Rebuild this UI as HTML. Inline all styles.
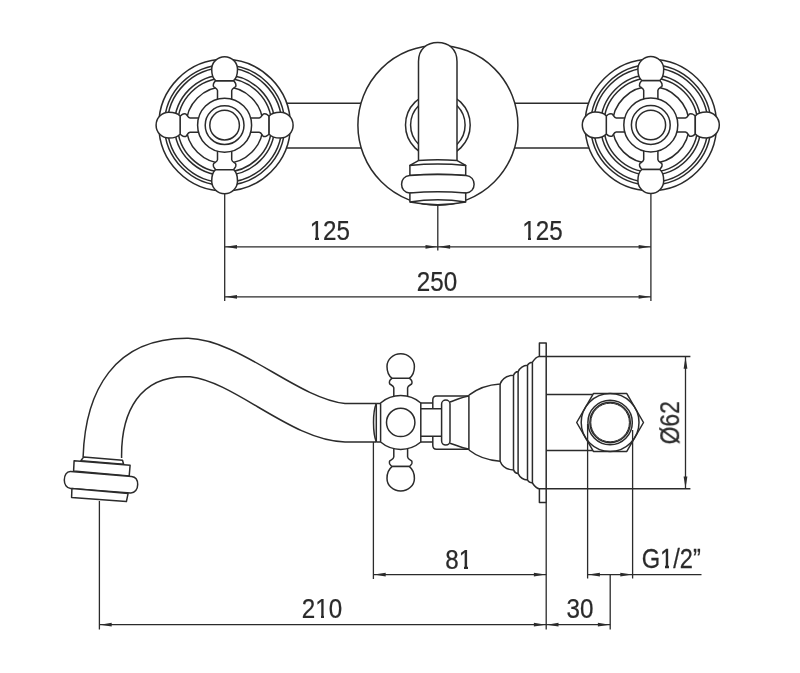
<!DOCTYPE html>
<html><head><meta charset="utf-8"><style>
html,body{margin:0;padding:0;background:#fff;}
svg{display:block;}
</style></head><body>
<svg width="800" height="673" viewBox="0 0 800 673">
<rect width="800" height="673" fill="#fff"/>
<g fill="none" stroke="#2b2b2b" stroke-width="1.5" stroke-linejoin="round">
<line x1="224.5" y1="103.3" x2="650.8" y2="103.3"/>
<line x1="224.5" y1="148" x2="650.8" y2="148"/>
<circle cx="224.6" cy="125.15" r="66" fill="#fff" stroke="none"/>
<circle cx="224.6" cy="125.15" r="65.8"/>
<circle cx="224.6" cy="125.15" r="60.2"/>
<circle cx="224.6" cy="125.15" r="57.3"/>
<circle cx="224.6" cy="125.15" r="50.2"/>
<circle cx="224.6" cy="125.15" r="47"/>
<circle cx="224.6" cy="125.15" r="38.4"/>
<g transform="translate(224.6,125.15) rotate(0)"><path d="M20,-7.1 L34.6,-7.1 C36.4,-7.2 37.3,-9.3 38.4,-10.9 C39,-11.4 40.2,-11.4 41.4,-11.1 C42.6,-10.6 43.5,-9.8 44.5,-9 L44.5,9 C43.5,9.8 42.6,10.6 41.4,11.1 C40.2,11.4 39,11.4 38.4,10.9 C37.3,9.3 36.4,7.2 34.6,7.1 L20,7.1 Z" fill="#fff"/><path d="M44.5,-9 C46.3,-11.3 49.87,-12.9 55.8,-12.9 C62.81,-12.9 68.5,-7.12 68.5,0 L68.5,0 C68.5,7.12 62.81,12.9 55.8,12.9 C49.87,12.9 46.3,11.3 44.5,9 Z" fill="#fff"/></g>
<g transform="translate(224.6,125.15) rotate(90)"><path d="M20,-7.1 L34.6,-7.1 C36.4,-7.2 37.3,-9.3 38.4,-10.9 C39,-11.4 40.2,-11.4 41.4,-11.1 C42.6,-10.6 43.5,-9.8 44.5,-9 L44.5,9 C43.5,9.8 42.6,10.6 41.4,11.1 C40.2,11.4 39,11.4 38.4,10.9 C37.3,9.3 36.4,7.2 34.6,7.1 L20,7.1 Z" fill="#fff"/><path d="M44.5,-9 C46.3,-11.3 49.87,-12.9 55.8,-12.9 C62.81,-12.9 68.5,-7.12 68.5,0 L68.5,0 C68.5,7.12 62.81,12.9 55.8,12.9 C49.87,12.9 46.3,11.3 44.5,9 Z" fill="#fff"/></g>
<g transform="translate(224.6,125.15) rotate(180)"><path d="M20,-7.1 L34.6,-7.1 C36.4,-7.2 37.3,-9.3 38.4,-10.9 C39,-11.4 40.2,-11.4 41.4,-11.1 C42.6,-10.6 43.5,-9.8 44.5,-9 L44.5,9 C43.5,9.8 42.6,10.6 41.4,11.1 C40.2,11.4 39,11.4 38.4,10.9 C37.3,9.3 36.4,7.2 34.6,7.1 L20,7.1 Z" fill="#fff"/><path d="M44.5,-9 C46.3,-11.3 49.87,-12.9 55.8,-12.9 C62.81,-12.9 68.5,-7.12 68.5,0 L68.5,0 C68.5,7.12 62.81,12.9 55.8,12.9 C49.87,12.9 46.3,11.3 44.5,9 Z" fill="#fff"/></g>
<g transform="translate(224.6,125.15) rotate(270)"><path d="M20,-7.1 L34.6,-7.1 C36.4,-7.2 37.3,-9.3 38.4,-10.9 C39,-11.4 40.2,-11.4 41.4,-11.1 C42.6,-10.6 43.5,-9.8 44.5,-9 L44.5,9 C43.5,9.8 42.6,10.6 41.4,11.1 C40.2,11.4 39,11.4 38.4,10.9 C37.3,9.3 36.4,7.2 34.6,7.1 L20,7.1 Z" fill="#fff"/><path d="M44.5,-9 C46.3,-11.3 49.87,-12.9 55.8,-12.9 C62.81,-12.9 68.5,-7.12 68.5,0 L68.5,0 C68.5,7.12 62.81,12.9 55.8,12.9 C49.87,12.9 46.3,11.3 44.5,9 Z" fill="#fff"/></g>
<circle cx="224.6" cy="125.15" r="27" fill="#fff"/>
<circle cx="224.6" cy="125.15" r="19.4"/>
<circle cx="224.6" cy="125.15" r="14.8"/>
<circle cx="650.8" cy="125" r="66" fill="#fff" stroke="none"/>
<circle cx="650.8" cy="125" r="65.8"/>
<circle cx="650.8" cy="125" r="60.2"/>
<circle cx="650.8" cy="125" r="57.3"/>
<circle cx="650.8" cy="125" r="50.2"/>
<circle cx="650.8" cy="125" r="47"/>
<circle cx="650.8" cy="125" r="38.4"/>
<g transform="translate(650.8,125) rotate(0)"><path d="M20,-7.1 L34.6,-7.1 C36.4,-7.2 37.3,-9.3 38.4,-10.9 C39,-11.4 40.2,-11.4 41.4,-11.1 C42.6,-10.6 43.5,-9.8 44.5,-9 L44.5,9 C43.5,9.8 42.6,10.6 41.4,11.1 C40.2,11.4 39,11.4 38.4,10.9 C37.3,9.3 36.4,7.2 34.6,7.1 L20,7.1 Z" fill="#fff"/><path d="M44.5,-9 C46.3,-11.3 49.87,-12.9 55.8,-12.9 C62.81,-12.9 68.5,-7.12 68.5,0 L68.5,0 C68.5,7.12 62.81,12.9 55.8,12.9 C49.87,12.9 46.3,11.3 44.5,9 Z" fill="#fff"/></g>
<g transform="translate(650.8,125) rotate(90)"><path d="M20,-7.1 L34.6,-7.1 C36.4,-7.2 37.3,-9.3 38.4,-10.9 C39,-11.4 40.2,-11.4 41.4,-11.1 C42.6,-10.6 43.5,-9.8 44.5,-9 L44.5,9 C43.5,9.8 42.6,10.6 41.4,11.1 C40.2,11.4 39,11.4 38.4,10.9 C37.3,9.3 36.4,7.2 34.6,7.1 L20,7.1 Z" fill="#fff"/><path d="M44.5,-9 C46.3,-11.3 49.87,-12.9 55.8,-12.9 C62.81,-12.9 68.5,-7.12 68.5,0 L68.5,0 C68.5,7.12 62.81,12.9 55.8,12.9 C49.87,12.9 46.3,11.3 44.5,9 Z" fill="#fff"/></g>
<g transform="translate(650.8,125) rotate(180)"><path d="M20,-7.1 L34.6,-7.1 C36.4,-7.2 37.3,-9.3 38.4,-10.9 C39,-11.4 40.2,-11.4 41.4,-11.1 C42.6,-10.6 43.5,-9.8 44.5,-9 L44.5,9 C43.5,9.8 42.6,10.6 41.4,11.1 C40.2,11.4 39,11.4 38.4,10.9 C37.3,9.3 36.4,7.2 34.6,7.1 L20,7.1 Z" fill="#fff"/><path d="M44.5,-9 C46.3,-11.3 49.87,-12.9 55.8,-12.9 C62.81,-12.9 68.5,-7.12 68.5,0 L68.5,0 C68.5,7.12 62.81,12.9 55.8,12.9 C49.87,12.9 46.3,11.3 44.5,9 Z" fill="#fff"/></g>
<g transform="translate(650.8,125) rotate(270)"><path d="M20,-7.1 L34.6,-7.1 C36.4,-7.2 37.3,-9.3 38.4,-10.9 C39,-11.4 40.2,-11.4 41.4,-11.1 C42.6,-10.6 43.5,-9.8 44.5,-9 L44.5,9 C43.5,9.8 42.6,10.6 41.4,11.1 C40.2,11.4 39,11.4 38.4,10.9 C37.3,9.3 36.4,7.2 34.6,7.1 L20,7.1 Z" fill="#fff"/><path d="M44.5,-9 C46.3,-11.3 49.87,-12.9 55.8,-12.9 C62.81,-12.9 68.5,-7.12 68.5,0 L68.5,0 C68.5,7.12 62.81,12.9 55.8,12.9 C49.87,12.9 46.3,11.3 44.5,9 Z" fill="#fff"/></g>
<circle cx="650.8" cy="125" r="27" fill="#fff"/>
<circle cx="650.8" cy="125" r="19.4"/>
<circle cx="650.8" cy="125" r="14.8"/>
<circle cx="437.9" cy="125.2" r="80" fill="#fff"/>
<circle cx="437.85" cy="125" r="32.35"/>
<circle cx="437.85" cy="125" r="27.25"/>
<path d="M418.5,163 L418.5,61.5 C418.5,49 427,42.5 437.75,42.5 C448.5,42.5 457,49 457,61.5 L457,163 Z" fill="#fff"/>
<path d="M418.4,160.6 Q437.8,159 457.2,160.6 L465.7,165.4 L409.9,165.4 Z" fill="#fff"/>
<path d="M409.9,165.4 Q437.8,162.8 465.7,165.4 L465.7,175.5 Q437.8,173.2 409.9,175.5 Z" fill="#fff"/>
<path d="M409.9,175.5 Q437.8,173.6 465.7,175.5 L466,175.5 C476.8,176 476.8,192.5 466,193 L409.6,193 C398.9,192.5 398.9,176 409.6,175.5 Z" fill="#fff"/>
<path d="M409.9,193 Q437.8,190.6 465.7,193 L465.7,202 Q437.8,207.4 409.9,202 Z" fill="#fff"/>
<path d="M409.9,202 Q437.8,197.4 465.7,202" fill="none"/>
<path d="M83.1,456.9 C85.3,390.9 114.1,337.6 188.2,338.3 C240.6,339.9 296.5,397.9 345,403.5 L376.3,403.5" fill="none"/>
<path d="M121.6,457.9 C120.9,413 138.9,374 190.2,376.8 C235.2,381.9 292.5,441.2 345,441.9 L376.3,441.9" fill="none"/>
<path d="M83.7,456.9 L122.5,460.2 L123.6,464.2 L80.9,460.8 Z" fill="#fff"/>
<path d="M74.1,460.8 L130.1,465.3 L129.2,476 L73.6,470.9 Z" fill="#fff"/>
<path d="M70.7,471.5 L131.5,476.6 C135.8,477 137.7,480.3 137.7,484.6 C137.7,489.2 135,493.2 130.4,492.9 L70.7,488.4 C66.6,488 64.3,484.4 64.3,480 C64.3,475.3 66.6,471.2 70.7,471.5 Z" fill="#fff"/>
<path d="M71.9,488.4 L128.1,493.4 L126.4,501.6 L71.6,497.4 Z" fill="#fff"/>
<path d="M376.3,403.5 C372.6,412 372.6,433 376.3,441.9" fill="none"/>
<path d="M376.3,403.5 L376.3,441.9 M376.3,403.5 L380.5,403.5 M376.3,441.9 L380.5,441.9" fill="none"/>
<g transform="translate(400.7,422.4) rotate(-90)"><path d="M20,-6.9 L34.6,-6.9 C36.4,-7 37.3,-9.1 38.4,-10.9 C39,-11.4 40.2,-11.4 41.4,-11.1 C42.6,-10.6 43.5,-9.5 44.2,-8.7 L44.2,8.7 C43.5,9.5 42.6,10.6 41.4,11.1 C40.2,11.4 39,11.4 38.4,10.9 C37.3,9.1 36.4,7 34.6,6.9 L20,6.9 Z" fill="#fff"/><path d="M44.2,-8.7 C46,-11 49.81,-13.7 56,-13.7 C62.96,-13.7 68.6,-7.57 68.6,0 L68.6,0 C68.6,7.57 62.96,13.7 56,13.7 C49.81,13.7 46,11 44.2,8.7 Z" fill="#fff"/></g>
<g transform="translate(400.7,422.4) rotate(90)"><path d="M20,-6.9 L34.6,-6.9 C36.4,-7 37.3,-9.1 38.4,-10.9 C39,-11.4 40.2,-11.4 41.4,-11.1 C42.6,-10.6 43.5,-9.5 44.2,-8.7 L44.2,8.7 C43.5,9.5 42.6,10.6 41.4,11.1 C40.2,11.4 39,11.4 38.4,10.9 C37.3,9.1 36.4,7 34.6,6.9 L20,6.9 Z" fill="#fff"/><path d="M44.2,-8.7 C46,-11 49.81,-13.7 56,-13.7 C62.96,-13.7 68.6,-7.57 68.6,0 L68.6,0 C68.6,7.57 62.96,13.7 56,13.7 C49.81,13.7 46,11 44.2,8.7 Z" fill="#fff"/></g>
<path d="M420.6,403.1 L433,403.1 M420.6,441.9 L433,441.9 M420.6,408.8 L441.6,408.8 M420.6,436.2 L441.6,436.2" fill="none"/>
<path d="M380.6,403 A31,31 0 0 1 420.8,403 L420.8,442 A31,31 0 0 1 380.6,442 Z" fill="#fff"/>
<circle cx="400.7" cy="422.4" r="14.2"/>
<path d="M469,396 L436.5,396 Q432.8,396 432.8,400 L432.8,408.8 M432.8,436.2 L432.8,445.2 Q432.8,449.2 436.5,449.2 L469,449.2" fill="none"/>
<rect x="441.6" y="400.1" width="8.4" height="45" rx="4.2" ry="4" fill="#fff"/>
<path d="M450,402 C456,400 462,397 469,396 M450,443.2 C456,445.2 462,448 469,449.2" fill="none"/>
<path d="M468.9,395.2 C476.7,389.04 487.62,384.78 500.1,384 C502.11,378.78 506.13,375.56 513.5,375.3 C514.42,373.08 515.8,371.79 518.1,371.6 C519.98,367.76 522.8,365.52 527.5,365.2 C528.48,363.4 529.95,362.35 532.4,362.2 C534.5,359.01 536.6,356.4 539.4,356.4 L546.2,356.4" fill="none"/>
<path d="M468.9 450  C476.7 456.16 487.62 460.42 500.1 461.2  C502.11 466.42 506.13 469.64 513.5 469.9  C514.42 472.12 515.8 473.41 518.1 473.6  C519.98 477.44 522.8 479.68 527.5 480  C528.48 481.8 529.95 482.85 532.4 483  C534.5 486.19 536.6 488.8 539.4 488.8  L546.2 488.8" fill="none"/>
<line x1="468.9" y1="395.2" x2="468.9" y2="450"/>
<line x1="500.1" y1="384" x2="500.1" y2="461.2"/>
<line x1="513.5" y1="375.3" x2="513.5" y2="469.9"/>
<line x1="518.1" y1="371.6" x2="518.1" y2="473.6"/>
<line x1="527.5" y1="365.2" x2="527.5" y2="480"/>
<line x1="532.4" y1="362.2" x2="532.4" y2="483"/>
<path d="M539.4,356.4 L539.4,342.9 L546.2,342.9 L546.2,502.5 L539.4,502.5 L539.4,488.8" fill="none"/>
<path d="M546.2,356.4 L690.4,356.4 M546.2,488.8 L690.4,488.8" fill="none"/>
<path d="M546.2,394.5 L592.8,394.5 M546.2,450.5 L592.8,450.5" fill="none"/>
<polygon points="643.5,422.5 626.8,451.43 593.4,451.43 576.7,422.5 593.4,393.57 626.8,393.57" fill="#fff"/>
<circle cx="610.1" cy="422.5" r="28.9"/>
<circle cx="610.1" cy="422.5" r="22.2"/>
<circle cx="610.1" cy="422.5" r="20.2"/>
<circle cx="610.1" cy="422.5" r="19.3" stroke-width="1"/>
<g stroke-width="1.3"><path d="M224.7,194 L224.7,301 M437.8,206 L437.8,250.5 M650.9,194 L650.9,301" fill="none"/>
<path d="M224.7,246.8 L650.9,246.8 M224.7,296.8 L650.9,296.8" fill="none"/>
<path d="M225.3,246.8 L237,244.9 L237,248.7 Z" fill="#2b2b2b" stroke="none"/>
<path d="M437.2,246.8 L425.5,248.7 L425.5,244.9 Z" fill="#2b2b2b" stroke="none"/>
<path d="M438.4,246.8 L450.1,244.9 L450.1,248.7 Z" fill="#2b2b2b" stroke="none"/>
<path d="M650.3,246.8 L638.6,248.7 L638.6,244.9 Z" fill="#2b2b2b" stroke="none"/>
<path d="M225.3,296.8 L237,294.9 L237,298.7 Z" fill="#2b2b2b" stroke="none"/>
<path d="M650.3,296.8 L638.6,298.7 L638.6,294.9 Z" fill="#2b2b2b" stroke="none"/>
<path d="M373.4,441.9 L373.4,579 M99.4,501 L99.4,629.5 M546.2,502.5 L546.2,629.5 M587.6,424 L587.6,578.5 M632.6,430 L632.6,578.5 M610.2,575 L610.2,629.5 M685.5,356.4 L685.5,488.8" fill="none"/>
<path d="M373.4,574.6 L546.2,574.6 M587.6,574.6 L701.5,574.6 M99.4,624.7 L610.2,624.7" fill="none"/>
<path d="M374,574.6 L385.7,572.7 L385.7,576.5 Z" fill="#2b2b2b" stroke="none"/>
<path d="M545.6,574.6 L533.9,576.5 L533.9,572.7 Z" fill="#2b2b2b" stroke="none"/>
<path d="M588.2,574.6 L599.9,572.7 L599.9,576.5 Z" fill="#2b2b2b" stroke="none"/>
<path d="M632,574.6 L620.3,576.5 L620.3,572.7 Z" fill="#2b2b2b" stroke="none"/>
<path d="M100,624.7 L111.7,622.8 L111.7,626.6 Z" fill="#2b2b2b" stroke="none"/>
<path d="M545.6,624.7 L533.9,626.6 L533.9,622.8 Z" fill="#2b2b2b" stroke="none"/>
<path d="M546.8,624.7 L558.5,622.8 L558.5,626.6 Z" fill="#2b2b2b" stroke="none"/>
<path d="M609.6,624.7 L597.9,626.6 L597.9,622.8 Z" fill="#2b2b2b" stroke="none"/>
<path d="M685.5,357 L687.4,368.7 L683.6,368.7 Z" fill="#2b2b2b" stroke="none"/>
<path d="M685.5,488.2 L683.6,476.5 L687.4,476.5 Z" fill="#2b2b2b" stroke="none"/></g>
</g>
<g fill="#2a2a2a" font-family="Liberation Sans, sans-serif" stroke="#2a2a2a" stroke-width="0.25" style="will-change:transform">
<text transform="translate(329.8,239.7) scale(0.88,1)" text-anchor="middle" font-size="27.5">125</text>
<text transform="translate(542.5,240.4) scale(0.88,1)" text-anchor="middle" font-size="27.5">125</text>
<text transform="translate(437,290.5) scale(0.88,1)" text-anchor="middle" font-size="27.5">250</text>
<text transform="translate(458.8,568.75) scale(0.88,1)" text-anchor="middle" font-size="27.5">81</text>
<text transform="translate(322,617.8) scale(0.88,1)" text-anchor="middle" font-size="27.5">210</text>
<text transform="translate(580,617.6) scale(0.88,1)" text-anchor="middle" font-size="27.5">30</text>
<text transform="translate(671.2,568.1) scale(0.86,1)" text-anchor="middle" font-size="27.5">G1/2&#8221;</text>
<text transform="translate(679.2,422.7) rotate(-90) scale(0.83,1)" text-anchor="middle" font-size="27.5">&#216;62</text>
</g>
<g fill="#fff" stroke="none" shape-rendering="crispEdges">
<rect x="309" y="237" width="6" height="3"/>
<rect x="319" y="237" width="4" height="3"/>
<rect x="522" y="237" width="6" height="3"/>
<rect x="531" y="237" width="5" height="3"/>
<rect x="458" y="566" width="6" height="3"/>
<rect x="468" y="566" width="4" height="3"/>
<rect x="315" y="615" width="6" height="3"/>
<rect x="324" y="615" width="5" height="3"/>
<rect x="659" y="565" width="6" height="4"/>
<rect x="669" y="565" width="4" height="4"/>
</g>
</svg>
</body></html>
